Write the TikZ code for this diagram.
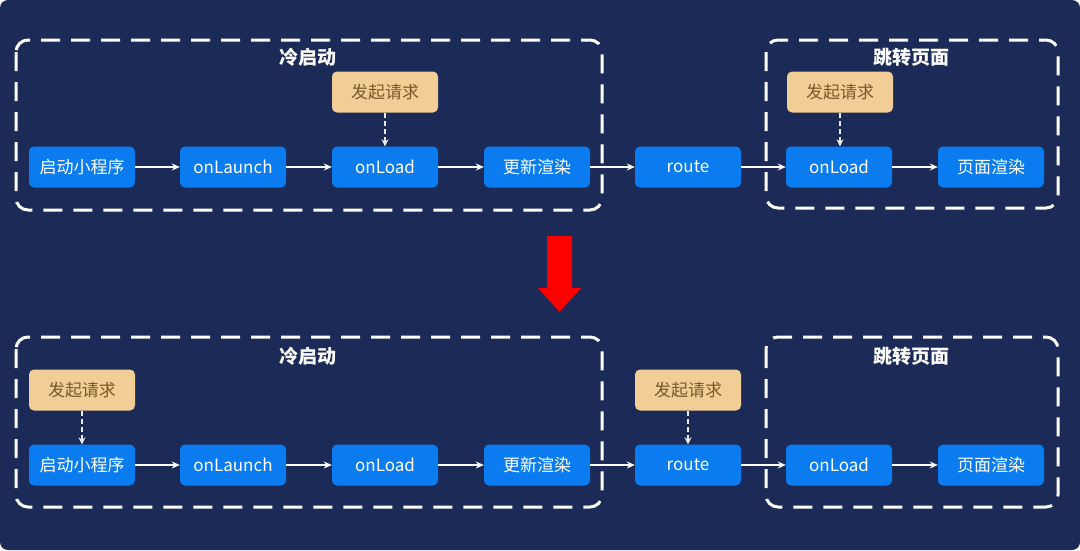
\documentclass[tikz,border=0pt]{standalone}
\usepackage{fontspec}
\setmainfont{Noto Sans CJK SC}
\usetikzlibrary{arrows.meta}
\definecolor{bgnavy}{HTML}{1C2A57}
\definecolor{nodeblue}{HTML}{0A7CF0}
\definecolor{reqfill}{HTML}{F0CE95}
\definecolor{reqtext}{HTML}{7A5A2A}
\tikzset{
  blk/.style={draw=none, fill=nodeblue, rounded corners=5pt, minimum width=106pt, minimum height=41pt, text=white, font=\fontsize{17}{19}\selectfont, inner sep=0pt},
  req/.style={draw=none, fill=reqfill, rounded corners=5pt, minimum width=106pt, minimum height=41pt, text=reqtext, font=\fontsize{17}{19}\selectfont, inner sep=0pt},
  grp/.style={draw=white, line width=3pt, dash pattern=on 19pt off 11pt, rounded corners=12pt},
  ttl/.style={text=white, font=\bfseries\fontsize{19}{22}\selectfont},
  flow/.style={draw=white, line width=1.5pt, -{Stealth[length=8pt,width=7pt]}},
  dflow/.style={draw=white!85!gray, line width=1.5pt, dash pattern=on 5pt off 3pt, -{Stealth[length=7pt,width=7pt]}}
}
\begin{document}
\begin{tikzpicture}[x=1pt,y=-1pt]
\useasboundingbox (0,0) rectangle (1080,550);
\fill[white] (0,0) rectangle (1080,550);
\fill[bgnavy, rounded corners=8pt] (0,0) rectangle (1080,550);

% ---------- top ----------
\draw[grp] (16,40) rectangle (602,210);
\draw[grp] (766,40) rectangle (1058,208);
\node[ttl] (t1) at (308,57) {冷启动};
\node[ttl] (t2) at (911,57) {跳转页面};

\node[blk] (a1) at (82,167) {启动小程序};
\node[blk] (a2) at (233,167) {onLaunch};
\node[blk] (a3) at (385,167) {onLoad};
\node[blk] (a4) at (537,167) {更新渲染};
\node[blk] (a5) at (688,167) {route};
\node[blk] (a6) at (839,167) {onLoad};
\node[blk] (a7) at (991,167) {页面渲染};
\node[req] (r1) at (385,92) {发起请求};
\node[req] (r2) at (840,92) {发起请求};

\draw[flow] (a1) -- (a2);
\draw[flow] (a2) -- (a3);
\draw[flow] (a3) -- (a4);
\draw[flow] (a4) -- (a5);
\draw[flow] (a5) -- (a6);
\draw[flow] (a6) -- (a7);
\draw[dflow] (r1) -- (a3);
\draw[dflow] (r2.south) -- (r2.south |- a6.north);

% ---------- red arrow ----------
\fill[red] (547,236) -- (572,236) -- (572,288) -- (581,288) -- (559.5,312) -- (538,288) -- (547,288) -- cycle;

% ---------- bottom ----------
\draw[grp] (16,337) rectangle (602,507);
\draw[grp] (766,337) rectangle (1058,507);
\node[ttl] (t3) at (308,356) {冷启动};
\node[ttl] (t4) at (911,356) {跳转页面};

\node[blk] (b1) at (82,465) {启动小程序};
\node[blk] (b2) at (233,465) {onLaunch};
\node[blk] (b3) at (385,465) {onLoad};
\node[blk] (b4) at (537,465) {更新渲染};
\node[blk] (b5) at (688,465) {route};
\node[blk] (b6) at (839,465) {onLoad};
\node[blk] (b7) at (991,465) {页面渲染};
\node[req] (s1) at (82,390) {发起请求};
\node[req] (s2) at (688,390) {发起请求};

\draw[flow] (b1) -- (b2);
\draw[flow] (b2) -- (b3);
\draw[flow] (b3) -- (b4);
\draw[flow] (b4) -- (b5);
\draw[flow] (b5) -- (b6);
\draw[flow] (b6) -- (b7);
\draw[dflow] (s1) -- (b1);
\draw[dflow] (s2) -- (b5);
\end{tikzpicture}
\end{document}
